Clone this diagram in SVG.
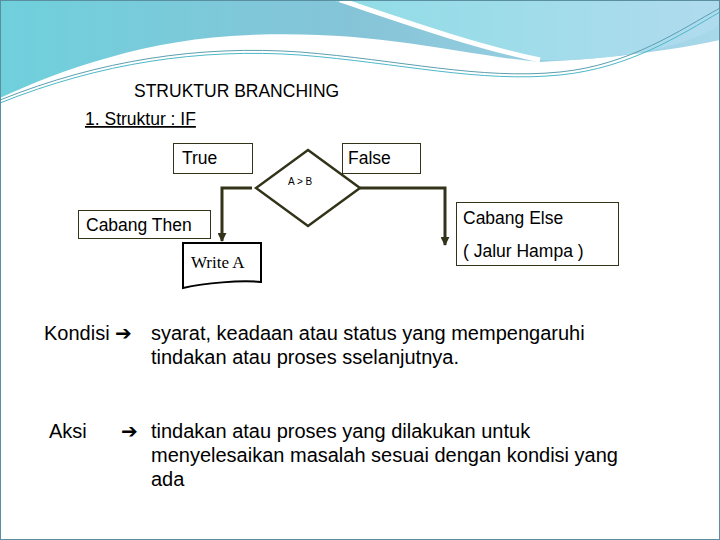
<svg xmlns="http://www.w3.org/2000/svg" width="720" height="540" viewBox="0 0 720 540">
<defs>
<linearGradient id="bg1" x1="0" y1="0" x2="1" y2="0"><stop offset="0" stop-color="#6fd0dc"/><stop offset="0.5" stop-color="#86c4d8"/><stop offset="1" stop-color="#a8d8ea"/></linearGradient>
<linearGradient id="bg2" x1="0" y1="0" x2="1" y2="0"><stop offset="0" stop-color="#8fdde6"/><stop offset="1" stop-color="#b0dbee"/></linearGradient>
<marker id="ah" viewBox="0 0 10 10" refX="9" refY="5" markerWidth="3" markerHeight="3" orient="auto"><path d="M0,0 L10,5 L0,10 z" fill="#333319"/></marker>
<style>
.t{font-family:"Liberation Sans",Arial,sans-serif;fill:#000}
.b{fill:#fff;stroke:#333319;stroke-width:1}
.c{fill:none;stroke:#333319;stroke-width:3}
</style>
</defs>
<rect width="720" height="540" fill="#fff"/>
<g id="decor">
<path d="M0,0 H720 V40 C650,55 580,60 540,62 C460,55 380,30 250,35 C150,38 60,70 0,98 Z" fill="url(#bg1)"/>
<path d="M330,0 H720 V25 C690,45 620,62 540,60 C470,50 400,15 330,0 Z" fill="url(#bg2)"/>
<path d="M340,0 C400,20 470,45 540,60" stroke="#fff" stroke-width="5" fill="none"/>
<path d="M0,100 C100,60 200,45 300,52 C400,60 480,80 560,72 C630,65 680,30 720,8" stroke="#5a9fb0" stroke-width="1" fill="none"/>
<path d="M0,103 C100,63 200,48 300,55 C400,63 480,83 560,75 C630,68 680,35 720,12" stroke="#4cb8c8" stroke-width="1" fill="none"/>
<rect x="0.5" y="0.5" width="719" height="539" fill="none" stroke="#5a8fa0" stroke-width="1"/>
</g>
<text class="t" x="134" y="97" font-size="17.5">STRUKTUR BRANCHING</text>
<text class="t" x="85" y="125" font-size="17.5" text-decoration="underline">1. Struktur : IF</text>
<g id="connectors">
<path class="c" d="M252,188 H222 V241" marker-end="url(#ah)"/>
<path class="c" d="M360,188 H445 V245" marker-end="url(#ah)"/>
</g>
<g id="true"><rect class="b" x="173.5" y="143.5" width="79" height="30"/><text class="t" x="182" y="164" font-size="17.5">True</text></g>
<g id="false"><rect class="b" x="342.5" y="143.5" width="78" height="30"/><text class="t" x="348" y="164" font-size="17.5">False</text></g>
<g id="cond"><path d="M308,150 L360,188 L308,226 L256,188 Z" fill="#fff" stroke="#333319" stroke-width="2.5"/><text class="t" x="288" y="185" font-size="10" fill="#333">A  &gt; B</text></g>
<g id="then"><rect class="b" x="78.5" y="210.5" width="132" height="28"/><text class="t" x="86" y="231" font-size="17.5">Cabang Then</text></g>
<g id="write"><path d="M183,243 H261 V282 C240,280 205,283 183,288 Z" fill="#fff" stroke="#000" stroke-width="2"/><text x="191" y="268" font-size="17" font-family="Liberation Serif,serif">Write A</text></g>
<g id="else"><rect class="b" x="456.5" y="202.5" width="162" height="63"/><text class="t" x="463" y="224" font-size="17.5">Cabang Else</text><text class="t" x="463" y="257" font-size="17.5">( Jalur Hampa )</text></g>
<g id="legend" font-size="20">
<text class="t" x="44" y="340">Kondisi ➔</text>
<text class="t" x="151" y="340">syarat, keadaan atau status yang mempengaruhi</text>
<text class="t" x="151" y="364">tindakan atau proses sselanjutnya.</text>
<text class="t" x="49" y="438">Aksi</text>
<text class="t" x="121" y="438">➔</text>
<text class="t" x="151" y="438">tindakan atau proses yang dilakukan untuk</text>
<text class="t" x="151" y="462">menyelesaikan masalah sesuai dengan kondisi yang</text>
<text class="t" x="151" y="486">ada</text>
</g>
</svg>
